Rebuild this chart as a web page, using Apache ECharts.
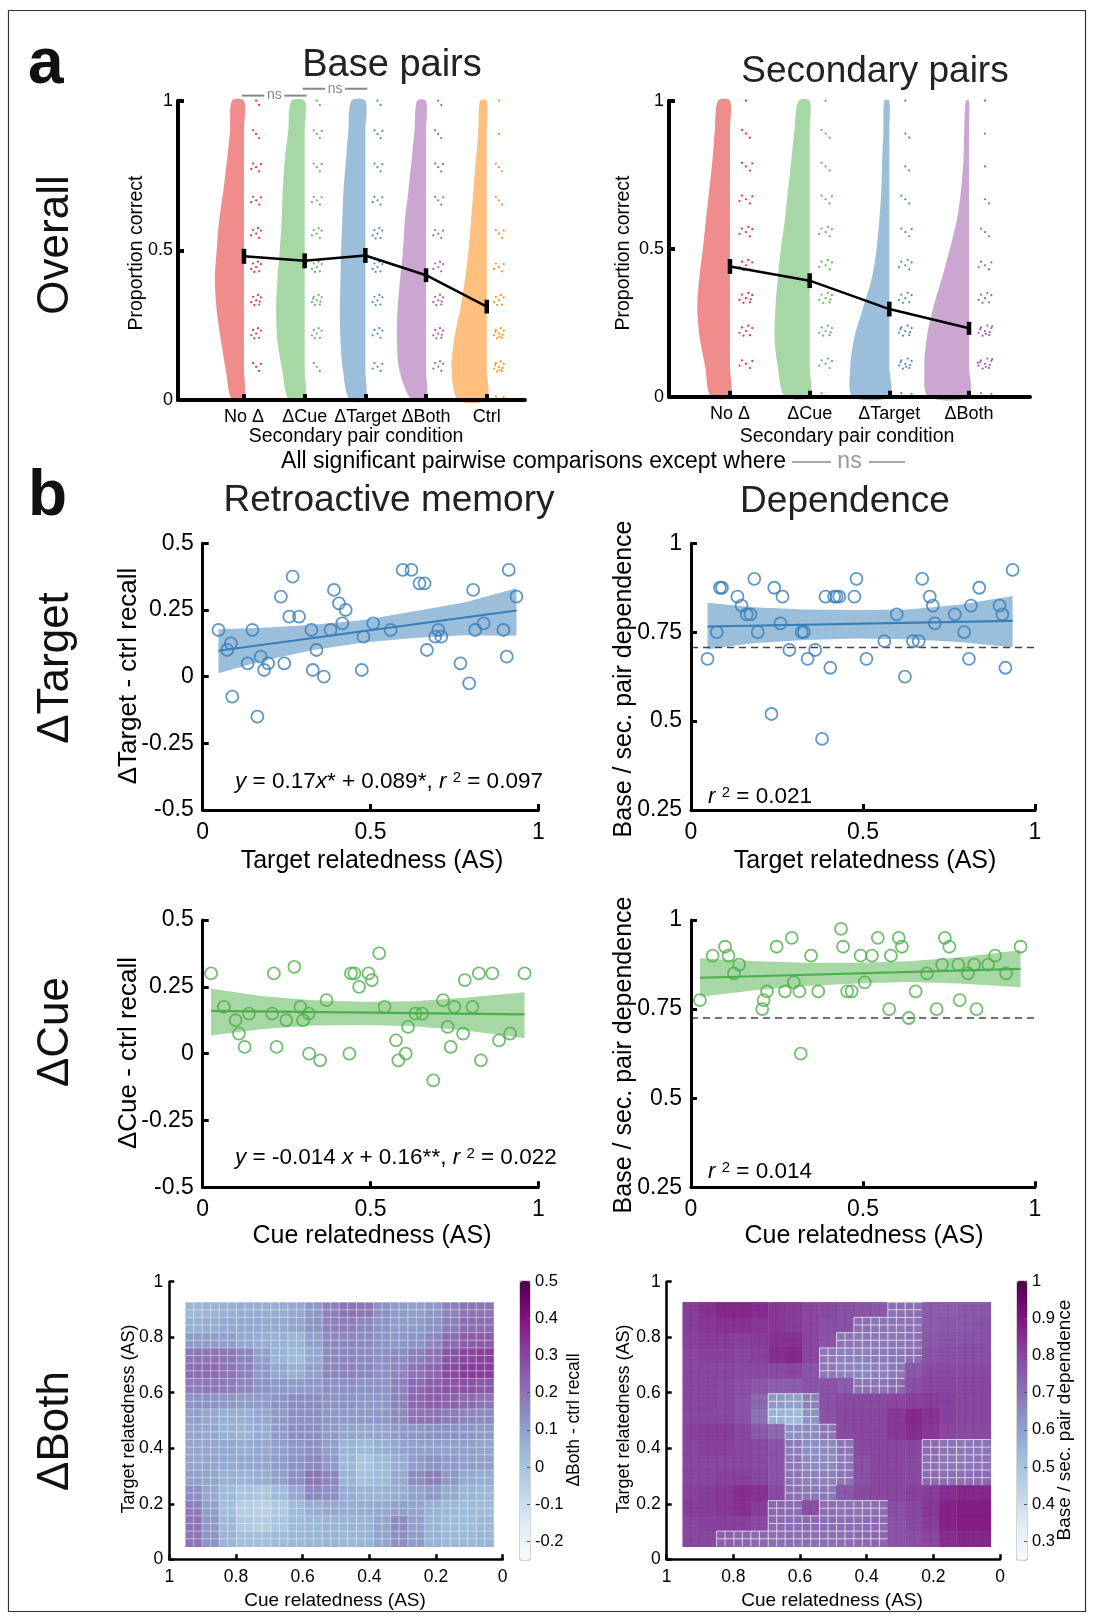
<!DOCTYPE html>
<html>
<head>
<meta charset="utf-8">
<script src="https://cdn.jsdelivr.net/npm/echarts@6/dist/echarts.min.js"></script>
<style>
  html, body { margin: 0; padding: 0; background: #fff; }
  #chart { width: 1094px; height: 1619px; }
</style>
</head>
<body>
<div id="chart"></div>
<script>
// ---------- panel a : proportion correct ----------
const baseConds = ['No Δ', 'ΔCue', 'ΔTarget', 'ΔBoth', 'Ctrl'];
const secConds = ['No Δ', 'ΔCue', 'ΔTarget', 'ΔBoth'];
const baseMeans = [0.48, 0.465, 0.483, 0.417, 0.312];
const baseSE = [0.025, 0.025, 0.025, 0.023, 0.023];
const secMeans = [0.44, 0.392, 0.296, 0.231];
const secSE = [0.025, 0.025, 0.025, 0.022];

// half violin width (category units) at proportion 0, 0.1, ... 1
const densityLevels = [0, 0.1, 0.2, 0.3, 0.4, 0.5, 0.6, 0.7, 0.8, 0.9, 1];
const baseDensity = [
  [0.20, 0.30, 0.38, 0.45, 0.48, 0.45, 0.41, 0.34, 0.28, 0.23, 0.20],
  [0.26, 0.37, 0.45, 0.47, 0.45, 0.41, 0.38, 0.36, 0.33, 0.27, 0.22],
  [0.26, 0.37, 0.41, 0.42, 0.41, 0.40, 0.38, 0.36, 0.32, 0.28, 0.23],
  [0.24, 0.44, 0.48, 0.47, 0.43, 0.38, 0.35, 0.29, 0.24, 0.19, 0.15],
  [0.47, 0.58, 0.54, 0.44, 0.36, 0.30, 0.26, 0.22, 0.18, 0.14, 0.11]
];
const secDensity = [
  [0.24, 0.31, 0.38, 0.41, 0.385, 0.34, 0.30, 0.26, 0.22, 0.19, 0.15],
  [0.31, 0.40, 0.44, 0.43, 0.40, 0.36, 0.31, 0.27, 0.23, 0.19, 0.14],
  [0.46, 0.49, 0.44, 0.33, 0.22, 0.16, 0.125, 0.10, 0.09, 0.075, 0.063],
  [0.51, 0.56, 0.53, 0.45, 0.34, 0.24, 0.15, 0.10, 0.07, 0.06, 0.04]
];

// participant scores sit on ninths; counts per level
const scoreLevels = [0, 0.111, 0.222, 0.333, 0.444, 0.556, 0.667, 0.778, 0.889, 1];
const baseDotCounts = [
  [1, 4, 7, 8, 7, 6, 5, 5, 3, 2],
  [1, 3, 7, 9, 7, 6, 5, 4, 4, 2],
  [1, 5, 6, 7, 7, 7, 5, 4, 4, 2],
  [2, 6, 8, 8, 6, 5, 4, 4, 3, 2],
  [4, 10, 10, 7, 5, 4, 3, 3, 1, 1]
];
const secDotCounts = [
  [2, 5, 7, 8, 7, 6, 5, 4, 3, 1],
  [3, 6, 8, 8, 6, 6, 4, 3, 3, 1],
  [4, 10, 9, 7, 6, 4, 3, 2, 2, 1],
  [5, 12, 11, 7, 5, 3, 2, 1, 1, 1]
];
const jitterX = [0.00, 0.05, -0.05, 0.08, -0.08, 0.03, -0.03, 0.06, -0.06, 0.01, 0.09, -0.09];
const jitterY = [0.000, -0.014, 0.012, 0.010, -0.006, 0.018, -0.016, -0.004, 0.006, -0.010, 0.016, 0.004];
const nsPairs = [[1, 2, 1.017], [2, 3, 1.04]];

// ---------- panel b : scatter ----------
const targetRetroX = [0.047,0.073,0.084,0.088,0.134,0.148,0.163,0.173,0.183,0.195,0.233,0.243,0.258,0.268,0.287,0.324,0.328,0.339,0.361,0.381,0.391,0.406,0.416,0.426,0.474,0.479,0.508,0.56,0.596,0.622,0.646,0.661,0.668,0.693,0.702,0.711,0.768,0.794,0.806,0.812,0.837,0.896,0.906,0.912,0.935];
const targetRetroY = [0.175,0.1,0.125,-0.075,0.05,0.175,-0.15,0.075,0.025,0.05,0.3,0.05,0.225,0.375,0.225,0.175,0.025,0.1,0,0.175,0.325,0.275,0.2,0.25,0.025,0.15,0.2,0.175,0.4,0.4,0.35,0.35,0.1,0.15,0.175,0.15,0.05,-0.025,0.325,0.175,0.2,0.175,0.075,0.4,0.3];
const targetDepX = [0.048,0.075,0.084,0.09,0.135,0.147,0.162,0.173,0.184,0.194,0.234,0.242,0.26,0.266,0.286,0.322,0.328,0.339,0.361,0.381,0.391,0.405,0.416,0.423,0.431,0.475,0.481,0.51,0.562,0.598,0.622,0.645,0.662,0.672,0.694,0.703,0.709,0.767,0.794,0.808,0.814,0.838,0.897,0.905,0.914,0.935];
const targetDepY = [0.675,0.75,0.875,0.875,0.85,0.825,0.8,0.8,0.9,0.75,0.52,0.875,0.775,0.85,0.7,0.75,0.75,0.675,0.7,0.45,0.85,0.65,0.85,0.85,0.85,0.85,0.9,0.675,0.725,0.8,0.625,0.725,0.725,0.9,0.85,0.825,0.775,0.8,0.75,0.675,0.825,0.875,0.825,0.8,0.65,0.925];
const cueRetroX = [0.025,0.063,0.098,0.108,0.125,0.138,0.207,0.212,0.22,0.249,0.273,0.291,0.299,0.316,0.317,0.35,0.369,0.437,0.442,0.452,0.466,0.494,0.504,0.526,0.542,0.576,0.583,0.605,0.612,0.634,0.654,0.687,0.716,0.73,0.739,0.75,0.776,0.781,0.804,0.823,0.829,0.863,0.883,0.916,0.959];
const cueRetroY = [0.3,0.175,0.125,0.075,0.025,0.15,0.15,0.3,0.025,0.125,0.325,0.175,0.125,0.15,0,-0.025,0.2,0,0.3,0.3,0.25,0.3,0.275,0.375,0.175,0.05,-0.025,0,0.1,0.15,0.15,-0.1,0.2,0.1,0.025,0.175,0.075,0.275,0.175,0.3,-0.025,0.3,0.05,0.075,0.3];
const cueDepX = [0.026,0.063,0.099,0.109,0.125,0.14,0.207,0.211,0.221,0.249,0.273,0.293,0.299,0.315,0.319,0.349,0.37,0.436,0.442,0.454,0.467,0.493,0.505,0.526,0.543,0.576,0.581,0.604,0.613,0.633,0.653,0.686,0.714,0.73,0.738,0.751,0.777,0.781,0.805,0.823,0.83,0.864,0.884,0.916,0.958];
const cueDepY = [0.775,0.9,0.925,0.9,0.85,0.875,0.75,0.775,0.8,0.925,0.8,0.95,0.825,0.8,0.625,0.9,0.8,0.975,0.925,0.8,0.8,0.9,0.825,0.9,0.95,0.75,0.9,0.95,0.925,0.725,0.8,0.85,0.75,0.875,0.95,0.925,0.875,0.775,0.85,0.875,0.75,0.875,0.9,0.85,0.925];

// regression lines and 95% bands
const targetRetroFit = [[0.047, 0.097], [0.935, 0.248]];
const targetRetroCiX = [0.047, 0.18, 0.33, 0.48, 0.63, 0.78, 0.935];
const targetRetroCiUp = [0.178, 0.183, 0.195, 0.212, 0.245, 0.278, 0.331];
const targetRetroCiLo = [0.013, 0.06, 0.1, 0.128, 0.145, 0.155, 0.153];
const targetDepFit = [[0.048, 0.766], [0.935, 0.782]];
const targetDepCiX = [0.048, 0.18, 0.33, 0.48, 0.63, 0.78, 0.935];
const targetDepCiUp = [0.833, 0.82, 0.814, 0.8125, 0.814, 0.827, 0.852];
const targetDepCiLo = [0.702, 0.719, 0.728, 0.732, 0.73, 0.7225, 0.7075];
const cueRetroFit = [[0.025, 0.16], [0.959, 0.147]];
const cueRetroCiX = [0.025, 0.18, 0.33, 0.48, 0.63, 0.78, 0.959];
const cueRetroCiUp = [0.2425, 0.215, 0.2, 0.194, 0.196, 0.209, 0.23];
const cueRetroCiLo = [0.0675, 0.0925, 0.105, 0.1075, 0.1025, 0.0875, 0.0575];
const cueDepFit = [[0.026, 0.838], [0.958, 0.863]];
const cueDepCiX = [0.026, 0.18, 0.33, 0.48, 0.63, 0.78, 0.958];
const cueDepCiUp = [0.8925, 0.885, 0.88, 0.88, 0.884, 0.895, 0.916];
const cueDepCiLo = [0.785, 0.802, 0.815, 0.822, 0.826, 0.822, 0.811];
const targetDepChance = 0.707;
const cueDepChance = 0.725;

// ---------- ΔBoth surfaces (rows: target high -> low, cols: cue high -> low) ----------
const cueBins = [0.927,0.876,0.825,0.773,0.722,0.670,0.619,0.568,0.516,0.465,0.413,0.362,0.311,0.259,0.208,0.157,0.105,0.054];
const targetBins = [0.899,0.844,0.789,0.734,0.679,0.624,0.569,0.514,0.459,0.404,0.349,0.294,0.239,0.184,0.129,0.074];
const bothRecall = [
  [0.04,0.05,0.06,0.07,0.07,0.07,0.08,0.12,0.17,0.20,0.19,0.14,0.11,0.10,0.12,0.17,0.20,0.20],
  [0.06,0.07,0.08,0.08,0.08,0.08,0.09,0.13,0.17,0.18,0.16,0.13,0.11,0.11,0.13,0.18,0.21,0.21],
  [0.11,0.11,0.10,0.08,0.07,0.06,0.05,0.10,0.15,0.16,0.15,0.13,0.12,0.13,0.16,0.22,0.25,0.25],
  [0.19,0.20,0.19,0.16,0.10,0.05,0.03,0.08,0.15,0.16,0.15,0.14,0.15,0.17,0.20,0.27,0.30,0.31],
  [0.21,0.22,0.20,0.17,0.12,0.08,0.06,0.10,0.16,0.17,0.16,0.14,0.16,0.20,0.23,0.29,0.32,0.32],
  [0.18,0.19,0.18,0.16,0.13,0.12,0.11,0.12,0.14,0.14,0.13,0.13,0.17,0.22,0.25,0.27,0.28,0.26],
  [0.13,0.13,0.12,0.11,0.11,0.13,0.15,0.15,0.13,0.13,0.12,0.12,0.17,0.23,0.25,0.24,0.22,0.20],
  [0.10,0.08,0.06,0.06,0.08,0.11,0.14,0.14,0.12,0.11,0.11,0.12,0.15,0.20,0.20,0.18,0.16,0.15],
  [0.09,0.08,0.06,0.05,0.07,0.11,0.14,0.14,0.11,0.09,0.08,0.09,0.11,0.12,0.13,0.13,0.12,0.11],
  [0.09,0.09,0.08,0.07,0.08,0.10,0.12,0.14,0.10,0.05,0.03,0.06,0.09,0.10,0.10,0.10,0.10,0.09],
  [0.09,0.09,0.08,0.08,0.09,0.11,0.13,0.16,0.12,0.04,0.00,0.03,0.07,0.11,0.13,0.11,0.10,0.10],
  [0.10,0.09,0.06,0.05,0.07,0.10,0.14,0.20,0.16,0.05,0.01,0.03,0.08,0.15,0.18,0.12,0.08,0.07],
  [0.14,0.08,0.03,0.00,-0.01,0.03,0.08,0.16,0.14,0.07,0.05,0.05,0.07,0.10,0.12,0.08,0.05,0.04],
  [0.18,0.10,0.02,-0.04,-0.05,-0.02,0.03,0.07,0.08,0.07,0.07,0.08,0.10,0.09,0.06,0.04,0.03,0.03],
  [0.20,0.12,0.04,-0.02,-0.03,0.00,0.03,0.04,0.05,0.05,0.05,0.09,0.15,0.10,0.05,0.03,0.03,0.04],
  [0.20,0.13,0.05,0.02,0.02,0.03,0.04,0.05,0.05,0.04,0.05,0.09,0.14,0.11,0.06,0.04,0.04,0.05]
];
const bothDependence = [
  [0.82,0.84,0.86,0.86,0.85,0.83,0.82,0.80,0.79,0.78,0.77,0.76,0.71,0.71,0.75,0.75,0.76,0.76],
  [0.82,0.83,0.84,0.84,0.83,0.83,0.82,0.80,0.78,0.77,0.71,0.70,0.70,0.70,0.75,0.76,0.76,0.77],
  [0.81,0.82,0.82,0.81,0.82,0.84,0.84,0.80,0.77,0.70,0.69,0.69,0.69,0.70,0.76,0.77,0.77,0.77],
  [0.80,0.81,0.81,0.80,0.81,0.85,0.86,0.80,0.69,0.67,0.67,0.68,0.69,0.71,0.77,0.78,0.78,0.78],
  [0.80,0.80,0.80,0.79,0.79,0.79,0.80,0.77,0.69,0.67,0.66,0.67,0.69,0.76,0.79,0.79,0.79,0.79],
  [0.80,0.80,0.79,0.78,0.76,0.74,0.75,0.77,0.77,0.75,0.70,0.70,0.72,0.78,0.80,0.80,0.80,0.80],
  [0.80,0.80,0.79,0.77,0.72,0.62,0.60,0.67,0.78,0.79,0.79,0.79,0.80,0.81,0.82,0.81,0.80,0.80],
  [0.79,0.79,0.79,0.77,0.70,0.55,0.53,0.63,0.77,0.80,0.80,0.80,0.83,0.86,0.84,0.81,0.80,0.80],
  [0.81,0.82,0.82,0.80,0.76,0.72,0.64,0.65,0.70,0.79,0.80,0.80,0.83,0.85,0.83,0.80,0.79,0.79],
  [0.80,0.81,0.81,0.80,0.79,0.77,0.68,0.64,0.65,0.70,0.79,0.80,0.80,0.80,0.72,0.70,0.69,0.70],
  [0.80,0.80,0.80,0.80,0.79,0.77,0.69,0.65,0.65,0.69,0.78,0.80,0.80,0.79,0.71,0.69,0.69,0.70],
  [0.80,0.80,0.81,0.81,0.80,0.77,0.70,0.67,0.67,0.70,0.78,0.80,0.80,0.79,0.72,0.71,0.71,0.72],
  [0.81,0.82,0.83,0.85,0.84,0.79,0.71,0.69,0.69,0.76,0.79,0.80,0.80,0.81,0.82,0.85,0.86,0.86],
  [0.82,0.82,0.83,0.84,0.82,0.73,0.71,0.78,0.71,0.70,0.70,0.71,0.78,0.80,0.83,0.87,0.88,0.88],
  [0.80,0.81,0.81,0.81,0.79,0.72,0.71,0.72,0.71,0.71,0.71,0.72,0.77,0.79,0.82,0.87,0.88,0.88],
  [0.80,0.80,0.74,0.73,0.72,0.71,0.71,0.71,0.71,0.71,0.72,0.73,0.77,0.78,0.80,0.85,0.86,0.86]
];
// 1 = cell inside the hatched (non-significant) region
const dependenceMask = [
  '000000000000110000','000000000011110000','000000000111110000','000000001111110000',
  '000000001111100000','000000000011100000','000001110000000000','000001110000000000',
  '000000111000000000','000000111100001111','000000111100001111','000000111100001111',
  '000000111000000000','000001101111000000','000001111111000000','001111111111000000'
];
const recallTicks = [-0.2, -0.1, 0, 0.1, 0.2, 0.3, 0.4, 0.5];
const depTicks = [0.3, 0.4, 0.5, 0.6, 0.7, 0.8, 0.9, 1];

// ---------- styling ----------
const FONT = "'Liberation Sans', Arial, Helvetica, sans-serif";
const setColors = ['#E41A1C', '#4DAF4A', '#377EB8', '#984EA3', '#FF7F00'];
const violinColors = ['rgba(228,26,28,0.5)', 'rgba(77,175,74,0.5)', 'rgba(55,126,184,0.5)', 'rgba(152,78,163,0.5)', 'rgba(255,127,0,0.5)'];
const BuPu = ['#f7fcfd','#e0ecf4','#bfd3e6','#9ebcda','#8c96c6','#8c6bb1','#88419d','#810f7c','#4d004b'];

function makeAxis(grid, min, max, p) {
  p = p || {};
  const lw = p.lw || 3;
  const ax = {
    type: 'value', gridIndex: grid, min: min, max: max, inverse: !!p.inverse, z: 10,
    show: p.show !== false,
    splitLine: { show: false },
    axisLine: { show: p.line !== false, onZero: false, lineStyle: { color: '#000', width: lw } },
    axisTick: { show: p.ticks !== false, inside: true, length: p.tick || 6, lineStyle: { color: p.tickColor || '#000', width: p.tickWidth || lw } },
    axisLabel: { show: true, color: '#000', fontFamily: FONT, fontSize: p.fs || 23, margin: p.margin || 8 }
  };
  if (p.position) ax.position = p.position;
  if (p.interval != null) ax.interval = p.interval;
  if (p.values) { ax.axisLabel.customValues = p.values; ax.axisTick.customValues = p.values; }
  if (p.formatter) ax.axisLabel.formatter = p.formatter;
  return ax;
}

const grids = [
  { left: 178, top: 100.7, width: 347, height: 299.3 },
  { left: 669, top: 100.7, width: 361, height: 296 },
  { left: 202.7, top: 543.3, width: 335.6, height: 266.7 },
  { left: 691, top: 543.3, width: 344, height: 266.7 },
  { left: 202.7, top: 920, width: 335.6, height: 267.3 },
  { left: 691, top: 920, width: 344, height: 267.3 },
  { left: 169.3, top: 1281.7, width: 333.4, height: 277.6 },
  { left: 666.7, top: 1281.7, width: 333.3, height: 277.6 },
  { left: 520, top: 1281, width: 10, height: 279, show: true, borderColor: '#aaa', borderWidth: 1, backgroundColor: 'transparent' },
  { left: 1017, top: 1281, width: 10, height: 279, show: true, borderColor: '#aaa', borderWidth: 1, backgroundColor: 'transparent' }
].map(g => Object.assign({ outerBoundsMode: 'none', containLabel: false }, g));

const xAxes = [
  makeAxis(0, -0.087, 5.63, { lw: 4, fs: 18, margin: 8, values: [1, 2, 3, 4, 5], formatter: v => baseConds[Math.round(v) - 1] }),
  makeAxis(1, 0.235, 4.765, { lw: 4, fs: 18, margin: 8, values: [1, 2, 3, 4], formatter: v => secConds[Math.round(v) - 1] }),
  makeAxis(2, 0, 1, { interval: 0.5, margin: 11 }),
  makeAxis(3, 0, 1, { interval: 0.5, margin: 11 }),
  makeAxis(4, 0, 1, { interval: 0.5, margin: 11 }),
  makeAxis(5, 0, 1, { interval: 0.5, margin: 11 }),
  makeAxis(6, 0, 1, { inverse: true, interval: 0.2, fs: 17.5, margin: 9, lw: 2.5, tick: 5 }),
  makeAxis(7, 0, 1, { inverse: true, interval: 0.2, fs: 17.5, margin: 9, lw: 2.5, tick: 5 }),
  makeAxis(8, 0, 1, { show: false }),
  makeAxis(9, 0, 1, { show: false })
];
const yAxes = [
  makeAxis(0, 0, 1, { lw: 4, fs: 18, margin: 5, interval: 0.5 }),
  makeAxis(1, 0, 1, { lw: 4, fs: 18, margin: 5, interval: 0.5 }),
  makeAxis(2, -0.5, 0.5, { interval: 0.25, margin: 9 }),
  makeAxis(3, 0.25, 1, { interval: 0.25, margin: 9 }),
  makeAxis(4, -0.5, 0.5, { interval: 0.25, margin: 9 }),
  makeAxis(5, 0.25, 1, { interval: 0.25, margin: 9 }),
  makeAxis(6, 0, 1, { interval: 0.2, fs: 17.5, margin: 6, lw: 2.5, tick: 5 }),
  makeAxis(7, 0, 1, { interval: 0.2, fs: 17.5, margin: 6, lw: 2.5, tick: 5 }),
  makeAxis(8, -0.25, 0.5, { position: 'right', line: false, values: recallTicks, fs: 16.5, margin: 5, tick: 3, tickWidth: 1, tickColor: '#555' }),
  makeAxis(9, 0.25, 1, { position: 'right', line: false, values: depTicks, fs: 16.5, margin: 5, tick: 3, tickWidth: 1, tickColor: '#555' })
];

// ---------- series builders ----------
function violinSeries(ax, density) {
  return {
    type: 'custom', xAxisIndex: ax, yAxisIndex: ax, silent: true, z: 1,
    data: density.map((d, k) => [k + 1, k]),
    renderItem: function (params, api) {
      const cat = api.value(0), k = api.value(1);
      const pts = densityLevels.map((lv, j) => api.coord([cat - density[k][j], lv]));
      for (let j = densityLevels.length - 1; j >= 0; j--) pts.push(api.coord([cat, densityLevels[j]]));
      return { type: 'polygon', shape: { points: pts, smooth: 0.3 }, style: { fill: violinColors[k] } };
    }
  };
}
function dotSeries(ax, counts) {
  const out = [];
  counts.forEach((row, k) => {
    const data = [];
    row.forEach((n, li) => {
      for (let i = 0; i < n; i++) data.push([k + 1.2 + jitterX[i], scoreLevels[li] + jitterY[i]]);
    });
    out.push({ type: 'scatter', xAxisIndex: ax, yAxisIndex: ax, silent: true, z: 2, symbolSize: 2.2, data: data, itemStyle: { color: setColors[k], opacity: 0.9 } });
  });
  return out;
}
function meanSeries(ax, means, se) {
  return [
    { type: 'line', xAxisIndex: ax, yAxisIndex: ax, silent: true, z: 5, symbol: 'none', data: means.map((m, i) => [i + 1, m]), lineStyle: { color: '#000', width: 2.5 } },
    {
      type: 'custom', xAxisIndex: ax, yAxisIndex: ax, silent: true, z: 6,
      data: means.map((m, i) => [i + 1, m, se[i]]),
      renderItem: function (params, api) {
        const lo = api.coord([api.value(0), api.value(1) - api.value(2)]);
        const hi = api.coord([api.value(0), api.value(1) + api.value(2)]);
        return { type: 'line', shape: { x1: lo[0], y1: lo[1], x2: hi[0], y2: hi[1] }, style: { stroke: '#000', lineWidth: 4.5 } };
      }
    }
  ];
}
function nsSeries(ax) {
  return {
    type: 'custom', xAxisIndex: ax, yAxisIndex: ax, silent: true, clip: false, z: 6,
    data: nsPairs,
    renderItem: function (params, api) {
      const p1 = api.coord([api.value(0), api.value(2)]);
      const p2 = api.coord([api.value(1), api.value(2)]);
      const mid = (p1[0] + p2[0]) / 2, y = p1[1];
      const st = { stroke: '#888', lineWidth: 2 };
      return { type: 'group', children: [
        { type: 'line', shape: { x1: p1[0] - 2, y1: y, x2: mid - 10, y2: y }, style: st },
        { type: 'line', shape: { x1: mid + 10, y1: y, x2: p2[0] + 2, y2: y }, style: st },
        { type: 'text', x: mid, y: y, style: { text: 'ns', fill: '#888', fontSize: 14, fontFamily: FONT, align: 'center', verticalAlign: 'middle', textAlign: 'center', textVerticalAlign: 'middle' } }
      ] };
    }
  };
}
function scatterPanel(ax, xs, ys, fit, ciX, ciUp, ciLo, color, band, chance) {
  const s = [
    {
      type: 'custom', xAxisIndex: ax, yAxisIndex: ax, silent: true, z: 1,
      data: [[ciX[0], ciUp[0]]],
      renderItem: function (params, api) {
        const pts = ciX.map((x, i) => api.coord([x, ciUp[i]]));
        for (let i = ciX.length - 1; i >= 0; i--) pts.push(api.coord([ciX[i], ciLo[i]]));
        return { type: 'polygon', shape: { points: pts }, style: { fill: band } };
      }
    },
    { type: 'line', xAxisIndex: ax, yAxisIndex: ax, silent: true, z: 3, symbol: 'none', data: fit, lineStyle: { color: color, width: 2.2 } },
    { type: 'scatter', xAxisIndex: ax, yAxisIndex: ax, silent: true, z: 4, symbolSize: 12, data: xs.map((x, i) => [x, ys[i]]),
      itemStyle: { color: 'rgba(255,255,255,0)', borderColor: color, borderWidth: 1.8 } }
  ];
  if (chance != null) {
    s.push({ type: 'line', xAxisIndex: ax, yAxisIndex: ax, silent: true, z: 2, symbol: 'none', data: [[0, chance], [1, chance]],
      lineStyle: { color: '#444', width: 1.6, type: [7, 5] } });
  }
  return s;
}
const cellW = Math.abs(cueBins[0] - cueBins[1]);
const cellH = Math.abs(targetBins[0] - targetBins[1]);
function heatSeries(ax, values, mask, hatchStroke, plainStroke) {
  const data = [];
  values.forEach((row, r) => row.forEach((v, c) => {
    data.push([cueBins[c], targetBins[r], v, mask ? +mask[r][c] : 1]);
  }));
  return {
    type: 'custom', xAxisIndex: ax, yAxisIndex: ax, silent: true, z: 2,
    encode: { x: 0, y: 1 }, data: data,
    renderItem: function (params, api) {
      const c = api.coord([api.value(0), api.value(1)]);
      const s = api.size([cellW, cellH]);
      const x0 = c[0] - s[0] / 2, y0 = c[1] - s[1] / 2;
      const kids = [{ type: 'rect', shape: { x: x0, y: y0, width: s[0] + 0.6, height: s[1] + 0.6 }, style: { fill: api.visual('color') } }];
      const stroke = api.value(3) === 1 ? hatchStroke : plainStroke;
      if (stroke) {
        [0, 0.5].forEach(f => {
          kids.push({ type: 'line', shape: { x1: x0 + s[0] * f, y1: y0, x2: x0 + s[0] * f, y2: y0 + s[1] }, style: { stroke: stroke, lineWidth: 0.9 } });
          kids.push({ type: 'line', shape: { x1: x0, y1: y0 + s[1] * f, x2: x0 + s[0], y2: y0 + s[1] * f }, style: { stroke: stroke, lineWidth: 0.9 } });
        });
      }
      return { type: 'group', children: kids };
    }
  };
}

const series = [];
series.push(violinSeries(0, baseDensity));
series.push(...dotSeries(0, baseDotCounts));
series.push(...meanSeries(0, baseMeans, baseSE));
series.push(nsSeries(0));
series.push(violinSeries(1, secDensity));
series.push(...dotSeries(1, secDotCounts));
series.push(...meanSeries(1, secMeans, secSE));
series.push(...scatterPanel(2, targetRetroX, targetRetroY, targetRetroFit, targetRetroCiX, targetRetroCiUp, targetRetroCiLo, '#377EB8', 'rgba(55,126,184,0.5)', null));
series.push(...scatterPanel(3, targetDepX, targetDepY, targetDepFit, targetDepCiX, targetDepCiUp, targetDepCiLo, '#377EB8', 'rgba(55,126,184,0.5)', targetDepChance));
series.push(...scatterPanel(4, cueRetroX, cueRetroY, cueRetroFit, cueRetroCiX, cueRetroCiUp, cueRetroCiLo, '#4DAF4A', 'rgba(77,175,74,0.5)', null));
series.push(...scatterPanel(5, cueDepX, cueDepY, cueDepFit, cueDepCiX, cueDepCiUp, cueDepCiLo, '#4DAF4A', 'rgba(77,175,74,0.5)', cueDepChance));
const heatLeftIndex = series.length;
series.push(heatSeries(6, bothRecall, null, 'rgba(255,255,255,0.5)', null));
const heatRightIndex = series.length;
series.push(heatSeries(7, bothDependence, dependenceMask, 'rgba(255,255,255,0.75)', 'rgba(110,30,120,0.12)'));

// ---------- text ----------
function txt(text, x, y, size, o) {
  o = o || {};
  const align = o.align || 'center', valign = o.valign || 'middle';
  const el = { type: 'text', x: x, y: y, z: 100, silent: true,
    style: { text: text, fill: o.color || '#000', fontFamily: FONT, fontSize: size, fontWeight: o.weight || 'normal',
      align: align, verticalAlign: valign, textAlign: align, textVerticalAlign: valign } };
  if (o.rotate) el.rotation = Math.PI / 2;
  if (o.rich) el.style.rich = o.rich;
  return el;
}
const eqRich = {
  i: { fontStyle: 'italic', fontSize: 22.5, fontFamily: FONT, fill: '#000' },
  s: { fontSize: 15, fontFamily: FONT, fill: '#000', verticalAlign: 'top', padding: [0, 0, 6, 0] }
};
const elements = [
  { type: 'rect', z: 0, silent: true, shape: { x: 8.5, y: 10.5, width: 1077, height: 1601 }, style: { fill: 'none', stroke: '#333', lineWidth: 1.2 } },
  txt('a', 28, 65, 64, { align: 'left', weight: 'bold', color: '#111' }),
  txt('b', 28, 497, 64, { align: 'left', weight: 'bold', color: '#111' }),
  txt('Base pairs', 392, 66, 38, { color: '#222' }),
  txt('Secondary pairs', 875, 72, 37, { color: '#222' }),
  txt('Retroactive memory', 389, 501, 37, { color: '#222' }),
  txt('Dependence', 845, 502, 37, { color: '#222' }),
  txt('Overall', 56, 245, 44, { rotate: true, color: '#111' }),
  txt('ΔTarget', 56, 668, 44, { rotate: true, color: '#111' }),
  txt('ΔCue', 56, 1032, 44, { rotate: true, color: '#111' }),
  txt('ΔBoth', 56, 1431, 44, { rotate: true, color: '#111' }),
  txt('Proportion correct', 137, 253, 19.5, { rotate: true }),
  txt('Proportion correct', 624, 253, 19.5, { rotate: true }),
  txt('Secondary pair condition', 356, 437, 19.5),
  txt('Secondary pair condition', 847, 437, 19.5),
  txt('All significant pairwise comparisons except where', 786, 462, 23, { align: 'right' }),
  { type: 'line', z: 100, silent: true, shape: { x1: 792, y1: 462, x2: 831, y2: 462 }, style: { stroke: '#888', lineWidth: 1.6 } },
  txt('ns', 849.5, 462, 23, { color: '#999' }),
  { type: 'line', z: 100, silent: true, shape: { x1: 869, y1: 462, x2: 905, y2: 462 }, style: { stroke: '#888', lineWidth: 1.6 } },
  txt('ΔTarget - ctrl recall', 129, 676, 26, { rotate: true }),
  txt('Base / sec. pair dependence', 624, 679, 25, { rotate: true }),
  txt('Target relatedness (AS)', 372, 861, 25),
  txt('Target relatedness (AS)', 865, 861, 25),
  txt('ΔCue - ctrl recall', 129, 1053, 26, { rotate: true }),
  txt('Base / sec. pair dependence', 624, 1055, 25, { rotate: true }),
  txt('Cue relatedness (AS)', 372, 1236, 25),
  txt('Cue relatedness (AS)', 864, 1236, 25),
  txt('{i|y} = 0.17{i|x}* + 0.089*, {i|r} {s|2} = 0.097', 235, 782, 22.5, { align: 'left', rich: eqRich }),
  txt('{i|r} {s|2} = 0.021', 708, 797, 22.5, { align: 'left', rich: eqRich }),
  txt('{i|y} = -0.014 {i|x} + 0.16**, {i|r} {s|2} = 0.022', 235, 1158, 22.5, { align: 'left', rich: eqRich }),
  txt('{i|r} {s|2} = 0.014', 708, 1172, 22.5, { align: 'left', rich: eqRich }),
  txt('Target relatedness (AS)', 129, 1419, 18, { rotate: true }),
  txt('Target relatedness (AS)', 624, 1419, 18, { rotate: true }),
  txt('Cue relatedness (AS)', 335, 1601, 19),
  txt('Cue relatedness (AS)', 832, 1601, 19),
  txt('ΔBoth - ctrl recall', 574, 1420, 17.5, { rotate: true }),
  txt('Base / sec. pair dependence', 1065, 1420, 19, { rotate: true })
];

const chart = echarts.init(document.getElementById('chart'), null, { renderer: 'canvas' });
chart.setOption({
  animation: false,
  backgroundColor: '#fff',
  grid: grids,
  xAxis: xAxes,
  yAxis: yAxes,
  visualMap: [
    { type: 'continuous', show: true, seriesIndex: heatLeftIndex, dimension: 2, min: -0.25, max: 0.5, calculable: false,
      inRange: { color: BuPu }, left: 520, top: 1281, itemWidth: 10, itemHeight: 279, padding: 0, text: null, hoverLink: false },
    { type: 'continuous', show: true, seriesIndex: heatRightIndex, dimension: 2, min: 0.25, max: 1, calculable: false,
      inRange: { color: BuPu }, left: 1017, top: 1281, itemWidth: 10, itemHeight: 279, padding: 0, text: null, hoverLink: false }
  ],
  graphic: { elements: elements },
  series: series
});
</script>
</body>
</html>
